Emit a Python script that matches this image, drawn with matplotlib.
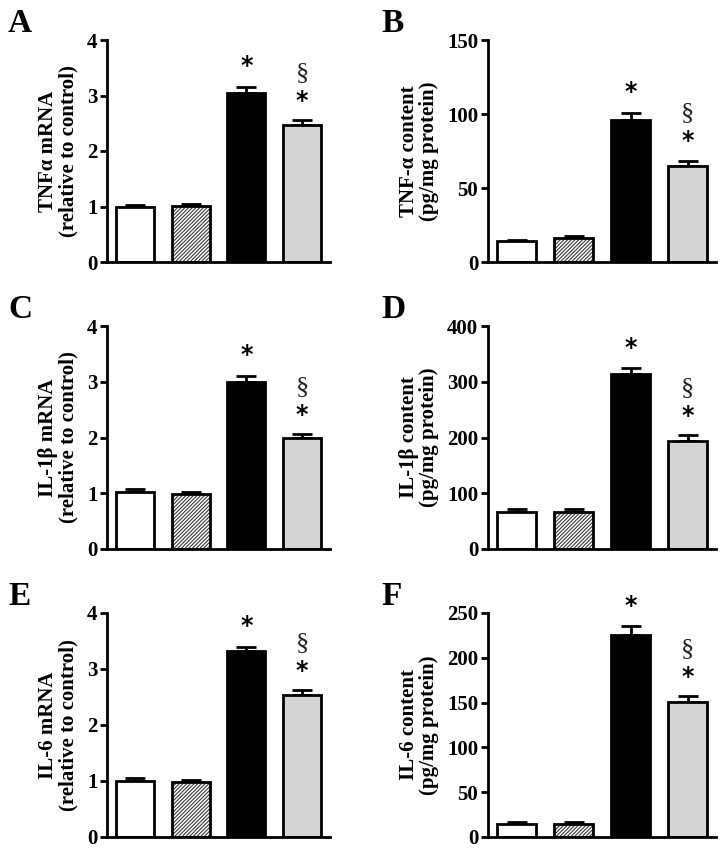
import matplotlib
matplotlib.use("Agg")
import matplotlib.pyplot as plt

plt.rcParams['font.family'] = ['Liberation Serif', 'DejaVu Serif']
plt.rcParams['font.weight'] = 'bold'
plt.rcParams['hatch.linewidth'] = 0.8

groups = ["Control", "Vehicle", "Treated", "Treated + drug"]

tnf_mrna = [1.00, 1.01, 3.05, 2.47]
tnf_mrna_err = [0.03, 0.03, 0.10, 0.08]
tnf_prot = [14, 16, 96, 65]
tnf_prot_err = [1.0, 1.5, 5.0, 3.5]
il1b_mrna = [1.03, 0.99, 3.00, 2.00]
il1b_mrna_err = [0.04, 0.04, 0.10, 0.06]
il1b_prot = [67, 67, 314, 194]
il1b_prot_err = [4, 5, 10, 10]
il6_mrna = [1.00, 0.98, 3.32, 2.54]
il6_mrna_err = [0.05, 0.03, 0.08, 0.08]
il6_prot = [15, 15, 226, 151]
il6_prot_err = [2, 2, 9, 6]

panels = [
    ("A", tnf_mrna, tnf_mrna_err, "TNFα mRNA\n(relative to control)", 4, 1),
    ("B", tnf_prot, tnf_prot_err, "TNF-α content\n(pg/mg protein)", 150, 50),
    ("C", il1b_mrna, il1b_mrna_err, "IL-1β mRNA\n(relative to control)", 4, 1),
    ("D", il1b_prot, il1b_prot_err, "IL-1β content\n(pg/mg protein)", 400, 100),
    ("E", il6_mrna, il6_mrna_err, "IL-6 mRNA\n(relative to control)", 4, 1),
    ("F", il6_prot, il6_prot_err, "IL-6 content\n(pg/mg protein)", 250, 50),
]

W, H = 728, 850
fig = plt.figure(figsize=(W / 100, H / 100), dpi=100)

col_left = [107, 488]
col_right = [330, 716]
row_top = [40, 326, 613]
row_bot = [262, 549, 837]
letter_x = [8, 381]

face = ["white", "white", "black", "#d4d4d4"]
hatches = [None, "/" * 9, None, None]
hatch_col = ["white", "#3a3a3a", "black", "#d4d4d4"]
x = list(range(4))

for i, (letter, vals, errs, ylab, ymax, step) in enumerate(panels):
    r, c = divmod(i, 2)
    l = col_left[c] / W
    w = (col_right[c] - col_left[c]) / W
    b = 1 - row_bot[r] / H
    h = (row_bot[r] - row_top[r]) / H
    ax = fig.add_axes([l, b, w, h])
    # fill + hatch layer
    ax.bar(x, vals, width=0.68, color=face, edgecolor=hatch_col, linewidth=0,
           hatch=hatches, zorder=2)
    # outline layer
    ax.bar(x, vals, width=0.68, fill=False, edgecolor="black", linewidth=2.0,
           zorder=3)
    ax.errorbar(x, vals, yerr=[[0] * 4, errs], fmt="none", ecolor="black",
                elinewidth=2.0, capsize=7.5, capthick=2.0, zorder=1)
    ax.set_xlim(-0.5, 3.5)
    ax.set_ylim(0, ymax)
    ticks = list(range(0, ymax + 1, step))
    ax.set_yticks(ticks)
    ax.set_yticklabels([str(t) for t in ticks], fontsize=15, fontweight="bold")
    ax.set_xticks([])
    for s in ["top", "right"]:
        ax.spines[s].set_visible(False)
    for s in ["left", "bottom"]:
        ax.spines[s].set_linewidth(2.0)
    ax.tick_params(axis="y", direction="out", length=5, width=2.0, pad=2)
    ax.set_ylabel(ylab, fontsize=15, fontweight="bold", linespacing=1.0,
                  labelpad=6)
    ax.patch.set_alpha(0)

    # significance marks
    top3 = vals[2] + errs[2]
    top4 = vals[3] + errs[3]
    ax.annotate("*", (2, top3), xytext=(0, 15), textcoords="offset points",
                ha="center", va="center", fontsize=17, fontweight="bold",
                family="DejaVu Sans")
    ax.annotate("*", (3, top4), xytext=(0, 14), textcoords="offset points",
                ha="center", va="center", fontsize=17, fontweight="bold",
                family="DejaVu Sans")
    ax.annotate("§", (3, top4), xytext=(0, 34), textcoords="offset points",
                ha="center", va="center", fontsize=19, fontweight="normal",
                color="#222222")

    fig.text(letter_x[c] / W, 1 - (row_top[r] - 32) / H, letter,
             fontsize=24, fontweight="bold", ha="left", va="top")

fig.savefig("out.png", dpi=100, facecolor="white")
